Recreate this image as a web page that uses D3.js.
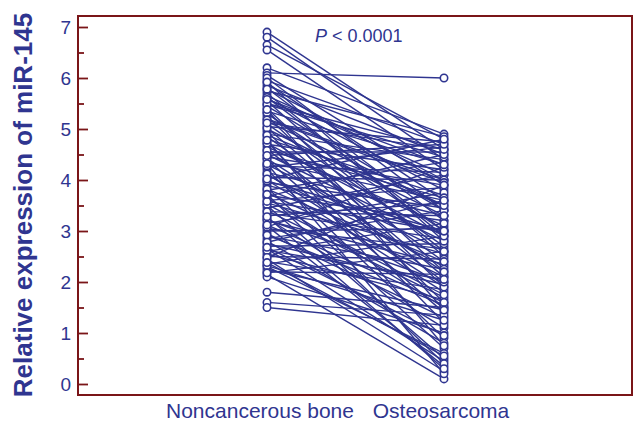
<!DOCTYPE html>
<html>
<head>
<meta charset="utf-8">
<script src="https://cdn.jsdelivr.net/npm/d3@7"></script>
<style>
  body { margin: 0; background: #fff; }
  text { font-family: "Liberation Sans", Arial, sans-serif; fill: #2f3590; }
</style>
</head>
<body>
<div id="chart"></div>
<script>
var svgWidth = 634;
var svgHeight = 424;

var groups = ["Noncancerous bone", "Osteosarcoma"];
var yTicks = [0, 1, 2, 3, 4, 5, 6, 7];

// paired values
var normalVals = [6.9, 6.8, 6.65, 6.55, 6.2, 6.1, 6.05, 5.95, 5.9, 5.85, 5.8, 5.75, 5.7, 5.65, 5.6, 5.55,
  5.5, 5.45, 5.4, 5.35, 5.3, 5.25, 5.2, 5.15, 5.1, 5.05, 5.0, 4.95, 4.9, 4.85, 4.8, 4.75, 4.7, 4.65,
  4.6, 4.55, 4.5, 4.45, 4.4, 4.35, 4.3, 4.25, 4.2, 4.15, 4.1, 4.05, 4.0, 3.95, 3.9, 3.85, 3.8, 3.75,
  3.7, 3.65, 3.6, 3.55, 3.5, 3.45, 3.4, 3.35, 3.3, 3.25, 3.2, 3.15, 3.1, 3.05, 3.0, 2.95, 2.9, 2.85,
  2.8, 2.75, 2.7, 2.65, 2.6, 2.55, 2.5, 2.45, 2.4, 2.35, 2.3, 2.25, 2.2, 2.15, 2.1, 1.8, 1.6, 1.5,
  6.0, 5.92, 5.78, 5.62, 5.48, 5.32, 5.18, 5.02, 4.88, 4.72, 4.58, 4.42, 4.28, 4.12, 3.98, 3.82,
  3.68, 3.52, 3.38, 3.22, 3.08, 2.92, 2.78, 2.62, 2.48, 2.32, 2.18, 5.58, 5.12, 4.48, 4.02, 3.58,
  3.12, 2.68, 2.38, 4.32, 3.72, 5.38, 4.78, 3.28];
var tumorVals = [4.6, 4.4, 4.8, 4.2, 4.9, 6.0, 3.9, 4.7, 3.6, 4.5, 3.2, 4.85, 2.9, 4.1, 3.8, 2.5,
  4.6, 3.4, 2.2, 4.3, 3.0, 1.9, 4.0, 3.5, 2.7, 4.75, 3.3, 1.6, 4.4, 2.4, 3.7, 1.2, 4.2, 3.1,
  2.0, 4.55, 2.8, 3.9, 1.4, 3.6, 2.6, 4.65, 0.9, 3.3, 2.3, 4.0, 1.8, 3.45, 2.95, 0.7, 4.35, 2.1,
  3.2, 1.5, 3.85, 2.55, 0.5, 4.1, 1.7, 2.85, 3.55, 1.1, 2.35, 3.75, 0.35, 2.65, 3.05, 1.3, 2.25, 3.4,
  0.8, 1.95, 2.75, 0.45, 3.15, 1.65, 2.45, 0.25, 1.85, 2.9, 0.6, 1.45, 2.15, 0.1, 1.0, 1.5, 1.35, 1.15,
  3.4, 2.8, 4.0, 3.0, 4.45, 2.6, 3.95, 2.1, 3.5, 2.9, 3.65, 2.2, 4.15, 1.9, 3.0, 2.4,
  4.5, 1.75, 3.3, 2.0, 4.25, 1.55, 3.6, 2.05, 3.9, 1.25, 2.6, 4.3, 4.6, 4.7, 4.8, 3.0,
  1.6, 0.95, 0.55, 0.2, 0.4, 1.45, 0.75, 0.3];

var pairs = normalVals.map(function(v, i) { return [v, tumorVals[i]]; });

var frame = { left: 78, top: 16, right: 632, bottom: 395 };
var blue = "#2f3590";
var red = "#7a1518";

var svg = d3.select("#chart")
  .append("svg")
  .attr("width", svgWidth)
  .attr("height", svgHeight);

var xScale = d3.scalePoint()
  .domain(groups)
  .range([267, 444]);

var yScale = d3.scaleLinear()
  .domain([0, 7])
  .range([384, 27]);

// connecting lines
svg.append("g")
  .selectAll("line")
  .data(pairs)
  .enter()
  .append("line")
  .attr("x1", xScale(groups[0]))
  .attr("x2", xScale(groups[1]))
  .attr("y1", d => yScale(d[0]))
  .attr("y2", d => yScale(d[1]))
  .attr("stroke", blue)
  .attr("stroke-width", 1.4);

// circles
groups.forEach(function(g, gi) {
  svg.append("g")
    .selectAll("circle")
    .data(pairs)
    .enter()
    .append("circle")
    .attr("cx", xScale(g))
    .attr("cy", d => yScale(d[gi]))
    .attr("r", 3.7)
    .attr("fill", "#fff")
    .attr("stroke", blue)
    .attr("stroke-width", 1.6);
});

// frame
svg.append("rect")
  .attr("x", frame.left)
  .attr("y", frame.top)
  .attr("width", frame.right - frame.left)
  .attr("height", frame.bottom - frame.top)
  .attr("fill", "none")
  .attr("stroke", red)
  .attr("stroke-width", 2);

// y axis: ticks inside the frame
var leftAxis = d3.axisRight(yScale)
  .tickValues(d3.range(0, 7.01, 0.5))
  .tickSize(0)
  .tickFormat("");

var axisG = svg.append("g")
  .attr("transform", `translate(${frame.left}, 0)`)
  .call(leftAxis);
axisG.select(".domain").remove();
axisG.selectAll(".tick line")
  .attr("x2", d => (d % 1 === 0 ? 10 : 6))
  .attr("stroke", red)
  .attr("stroke-width", 1.8);

svg.append("g")
  .selectAll("text")
  .data(yTicks)
  .enter()
  .append("text")
  .attr("x", 71)
  .attr("y", d => yScale(d))
  .attr("dy", "0.36em")
  .attr("text-anchor", "end")
  .style("font-size", "19px")
  .text(d => d);

// x labels
svg.append("g")
  .selectAll("text")
  .data(groups)
  .enter()
  .append("text")
  .attr("x", (d, i) => i === 0 ? 260 : 441)
  .attr("y", 418)
  .attr("text-anchor", "middle")
  .style("font-size", "21px")
  .text(d => d);

// y title
svg.append("text")
  .attr("transform", "translate(32, 205) rotate(-90)")
  .attr("text-anchor", "middle")
  .style("font-size", "26px")
  .style("font-weight", "bold")
  .text("Relative expression of miR-145");

// p value
var pText = svg.append("text")
  .attr("x", 315)
  .attr("y", 42)
  .style("font-size", "18px");
pText.append("tspan").style("font-style", "italic").text("P");
pText.append("tspan").text(" < 0.0001");
</script>
</body>
</html>
